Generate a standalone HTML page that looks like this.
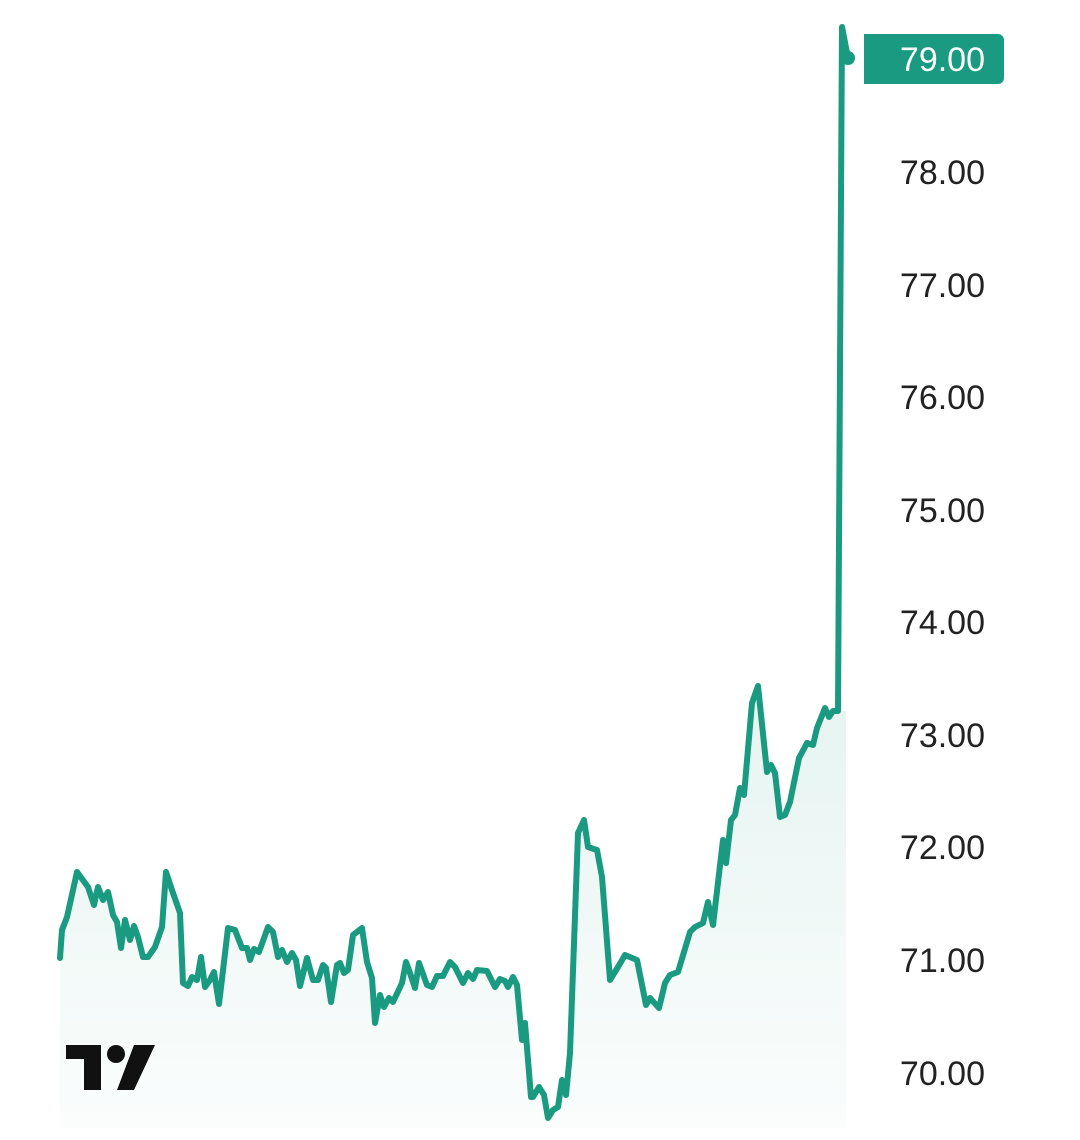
<!DOCTYPE html>
<html><head><meta charset="utf-8"><style>
html,body{margin:0;padding:0;background:#fff;}
svg{display:block;}
</style></head><body>
<svg width="1080" height="1140" viewBox="0 0 1080 1140" xmlns="http://www.w3.org/2000/svg">
<defs>
<linearGradient id="g" x1="0" y1="0" x2="0" y2="1">
<stop offset="0" stop-color="#1a9a80" stop-opacity="0.11"/>
<stop offset="1" stop-color="#1a9a80" stop-opacity="0.02"/>
</linearGradient>
</defs>
<path fill="url(#g)" d="M60,958 L62,930 67,917 77,872 88,887 94,905 98,887 103,900 108,892 113,915 117,922 121,948 125,920 130,940 134,926 138,937 143,957 148,957 155,947 162,927 166,872 173,893 180,913 183,983 188,986 192,977 197,980 201,957 205,987 210,980 214,972 219,1004 228,928 235,930 242,948 247,948 250,960 254,949 259,952 268,927 273,932 278,957 282,950 287,962 292,953 296,960 300,986 307,958 313,980 318,980 323,965 326,968 331,1002 337,965 340,963 344,973 348,970 353,935 362,928 367,962 372,978 375,1023 380,995 384,1007 389,998 393,1002 402,983 406,962 410,973 415,988 419,963 427,985 432,987 437,976 443,976 450,962 455,967 463,983 468,973 473,979 477,970 487,971 495,987 500,979 505,981 508,987 513,977 517,985 522,1040 525,1023 531,1097 533,1097 539,1087 544,1095 548,1118 553,1110 558,1107 562,1080 566,1095 570,1053 578,833 584,820 588,847 597,850 602,877 610,980 618,967 625,955 637,960 646,1005 650,998 659,1008 665,983 670,975 678,972 690,932 695,927 703,923 708,902 713,925 723,840 726,863 731,820 735,815 740,788 744,795 752,703 758,686 767,772 771,765 775,773 780,817 785,815 790,802 799,758 807,743 813,745 817,728 825,708 829,717 833,711 838,711 L846,711 L846,1128 L60,1128 Z"/>
<polyline fill="none" stroke="#1a9a80" stroke-width="6" stroke-linejoin="round" stroke-linecap="round" points="60,958 62,930 67,917 77,872 88,887 94,905 98,887 103,900 108,892 113,915 117,922 121,948 125,920 130,940 134,926 138,937 143,957 148,957 155,947 162,927 166,872 173,893 180,913 183,983 188,986 192,977 197,980 201,957 205,987 210,980 214,972 219,1004 228,928 235,930 242,948 247,948 250,960 254,949 259,952 268,927 273,932 278,957 282,950 287,962 292,953 296,960 300,986 307,958 313,980 318,980 323,965 326,968 331,1002 337,965 340,963 344,973 348,970 353,935 362,928 367,962 372,978 375,1023 380,995 384,1007 389,998 393,1002 402,983 406,962 410,973 415,988 419,963 427,985 432,987 437,976 443,976 450,962 455,967 463,983 468,973 473,979 477,970 487,971 495,987 500,979 505,981 508,987 513,977 517,985 522,1040 525,1023 531,1097 533,1097 539,1087 544,1095 548,1118 553,1110 558,1107 562,1080 566,1095 570,1053 578,833 584,820 588,847 597,850 602,877 610,980 618,967 625,955 637,960 646,1005 650,998 659,1008 665,983 670,975 678,972 690,932 695,927 703,923 708,902 713,925 723,840 726,863 731,820 735,815 740,788 744,795 752,703 758,686 767,772 771,765 775,773 780,817 785,815 790,802 799,758 807,743 813,745 817,728 825,708 829,717 833,711 838,711 842,27 848,58"/>
<circle cx="848" cy="58" r="7" fill="#1a9a80"/>
<path d="M864,34 H998 a6,6 0 0 1 6,6 V78 a6,6 0 0 1 -6,6 H864 Z" fill="#1a9a80"/>
<text x="985" y="71" text-anchor="end" font-family="Liberation Sans, sans-serif" font-size="34" fill="#fff">79.00</text>
<g font-family="Liberation Sans, sans-serif" font-size="34" fill="#222" text-anchor="end">
<text x="985" y="184">78.00</text>
<text x="985" y="297">77.00</text>
<text x="985" y="409">76.00</text>
<text x="985" y="522">75.00</text>
<text x="985" y="634">74.00</text>
<text x="985" y="747">73.00</text>
<text x="985" y="859">72.00</text>
<text x="985" y="972">71.00</text>
<text x="985" y="1085">70.00</text>
</g>
<g fill="#111">
<path d="M66,1045 H101 V1090 H84 V1059 H66 Z"/>
<circle cx="116" cy="1054" r="9"/>
<path d="M134,1045 H155 L134,1090 H117 Z"/>
</g>
</svg>
</body></html>
